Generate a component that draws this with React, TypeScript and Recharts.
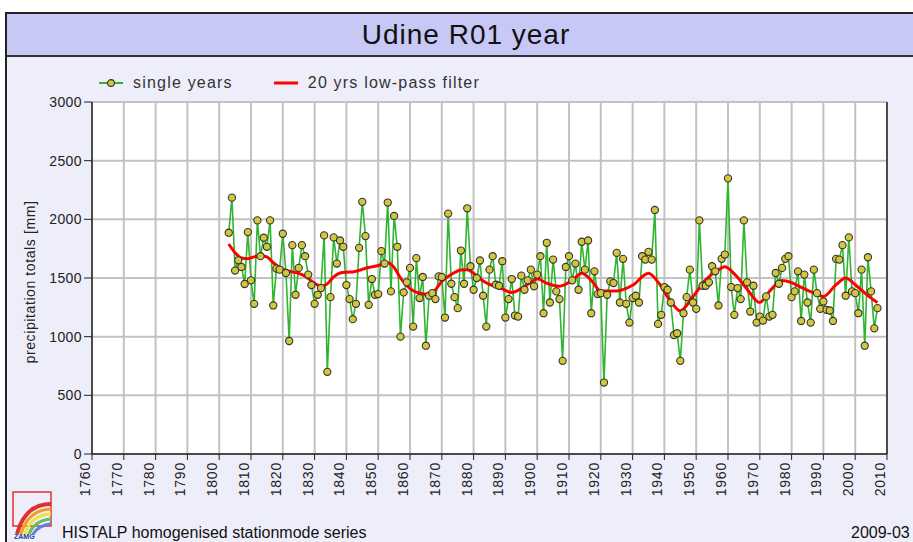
import {
  CartesianGrid, ComposedChart, Line, ReferenceLine, Scatter, XAxis, YAxis,
} from "recharts";

// annual precipitation totals [mm], Udine, one value per year from 1803
const firstYear = 1803;
const singleTotals = [
  1886, 2185, 1563, 1651, 1594, 1449, 1891, 1480, 1280, 1991, 1686, 1843, 1766, 1991, 1266, 1580, 1571,
  1877, 1543, 963, 1780, 1357, 1586, 1780, 1686, 1529, 1440,
  1280, 1357, 1414, 1863, 700, 1337, 1846, 1623, 1820, 1766,
  1440, 1320, 1149, 1280, 1757, 2149, 1857, 1271, 1491, 1357,
  1363, 1729, 1623, 2143, 1386, 2029, 1766, 1000, 1377, 1463,
  1586, 1086, 1669, 1329, 1509, 923, 1349, 1371, 1320, 1514,
  1509, 1163, 2049, 1451, 1337, 1243, 1734, 1451, 2094, 1600,
  1400, 1500, 1649, 1349, 1086, 1571, 1686, 1443, 1434, 1643,
  1163, 1320, 1491, 1180, 1171, 1520, 1400, 1480, 1571, 1429,
  1529, 1686, 1200, 1800, 1291, 1657, 1386, 1320, 794, 1594,
  1686, 1480, 1623, 1400, 1809, 1571, 1820, 1200, 1557, 1363,
  1371, 609, 1357, 1471, 1457, 1714, 1291, 1663, 1280, 1120,
  1329, 1349, 1291, 1686, 1657, 1723, 1657, 2080, 1109, 1186,
  1423, 1400, 1291, 1014, 1029, 794, 1200, 1337, 1571, 1291,
  1237, 1991, 1434, 1434, 1463, 1600, 1557, 1266, 1663, 1700,
  2349, 1423, 1186, 1414, 1320, 1991, 1463, 1214, 1434, 1120,
  1171, 1137, 1343, 1171, 1186, 1543, 1451, 1586, 1663, 1686,
  1337, 1386, 1557, 1134, 1529, 1291, 1120, 1571, 1371, 1237,
  1300, 1229, 1223, 1134, 1663, 1657, 1780, 1349, 1846, 1386,
  1371, 1200, 1571, 923, 1677, 1386, 1071, 1243,
];

// 20 yrs low-pass filter
const filterYears = [
  1803, 1805, 1807, 1809, 1811, 1813, 1815, 1817, 1819, 1821, 1823, 1825, 1827, 1829, 1831, 1832,
  1834, 1836, 1838, 1840, 1842, 1844, 1846, 1848, 1850, 1852, 1853, 1855, 1857, 1860, 1863, 1866,
  1868, 1870, 1873, 1876, 1878, 1880, 1882, 1885, 1888, 1892, 1895, 1898, 1900, 1903, 1907, 1911,
  1914, 1917, 1920, 1925, 1930, 1935, 1938, 1942, 1945, 1949, 1953, 1957, 1959, 1962, 1966, 1970,
  1973, 1977, 1980, 1983, 1987, 1990, 1994, 1997, 2000, 2004, 2007,
];
const filterValues = [
  1790, 1715, 1670, 1665, 1680, 1690, 1680, 1630, 1590, 1565, 1552, 1540, 1515, 1475, 1440, 1430,
  1450, 1510, 1543, 1550, 1552, 1565, 1583, 1595, 1607, 1627, 1630, 1590, 1500, 1410, 1370, 1360,
  1400, 1470, 1530, 1568, 1570, 1540, 1494, 1445, 1420, 1376, 1410, 1465, 1493, 1455, 1430, 1480,
  1541, 1480, 1390, 1390, 1438, 1541, 1465, 1300, 1220, 1342, 1485, 1570, 1595, 1535, 1405, 1291,
  1385, 1478, 1460, 1420, 1371, 1343, 1443, 1500, 1443, 1350, 1290,
];

const yTicks = [0, 500, 1000, 1500, 2000, 2500, 3000];
const xTicks = [
  1760, 1770, 1780, 1790, 1800, 1810, 1820, 1830, 1840, 1850, 1860, 1870, 1880,
  1890, 1900, 1910, 1920, 1930, 1940, 1950, 1960, 1970, 1980, 1990, 2000, 2010,
];

const singles = singleTotals.map((v, i) => ({ year: firstYear + i, value: v }));
const filtered = filterYears.map((y, i) => ({ year: y, value: filterValues[i] }));

const GREEN = "#2fb52f";
const RED = "#ff0000";
const DOT_FILL = "#d2c63c";
const FONT = '"Liberation Sans", Arial, sans-serif';

function XTick({ x, y, payload }: any) {
  return (
    <text
      transform={`translate(${x - 7},${y}) rotate(-90)`}
      textAnchor="end"
      dominantBaseline="central"
      fontSize={14}
      letterSpacing={0.8}
      fill="#222"
    >
      {payload.value}
    </text>
  );
}

function Dot({ cx, cy }: any) {
  return <circle cx={cx} cy={cy} r={3.6} fill={DOT_FILL} stroke="#333" strokeWidth={1.1} />;
}

export default function App() {
  return (
    <div style={{ position: "absolute", left: 0, top: 0, width: 913, height: 542, overflow: "hidden", background: "#fff", fontFamily: FONT }}>
      {/* panel */}
      <div style={{ position: "absolute", left: 5, top: 12, width: 1000, height: 600, background: "#eeeefa", borderLeft: "2px solid #222", borderTop: "2px solid #222" }} />
      <div style={{ position: "absolute", left: 7, top: 14, width: 1000, height: 41, background: "#c8c8f6", borderBottom: "2px solid #333" }} />
      <div style={{ position: "absolute", left: 0, top: 17, width: 932, textAlign: "center", fontSize: 28, lineHeight: "36px", letterSpacing: 1, color: "#111" }}>
        Udine R01 year
      </div>

      {/* legend */}
      <div style={{ position: "absolute", left: 98, top: 73, height: 20, display: "flex", alignItems: "center", fontSize: 16, letterSpacing: 1.2, color: "#333" }}>
        <svg width={26} height={12} style={{ marginRight: 9 }}>
          <line x1={1} y1={6} x2={25} y2={6} stroke={GREEN} strokeWidth={2} />
          <circle cx={13} cy={6} r={3.4} fill={DOT_FILL} stroke="#333" strokeWidth={1.1} />
        </svg>
        <span>single years</span>
        <svg width={26} height={12} style={{ marginLeft: 40, marginRight: 9 }}>
          <line x1={1} y1={6} x2={25} y2={6} stroke={RED} strokeWidth={3} />
        </svg>
        <span>20 yrs low-pass filter</span>
      </div>

      {/* y axis title */}
      <div style={{ position: "absolute", left: 30, top: 282, width: 0, height: 0 }}>
        <div style={{ position: "absolute", left: -90, top: -9, width: 180, textAlign: "center", fontSize: 14, letterSpacing: 0.6, lineHeight: "18px", color: "#222", transform: "rotate(-90deg)" }}>
          precipitation totals [mm]
        </div>
      </div>

      <div style={{ position: "absolute", left: 0, top: 0 }}>
        <ComposedChart width={913} height={542} margin={{ top: 102, right: 26, bottom: 38, left: 32 }}>
          <CartesianGrid fill="#fff" stroke="#c2c2c2" strokeWidth={2} />
          <XAxis
            type="number"
            dataKey="year"
            domain={[1760, 2010]}
            ticks={xTicks}
            interval={0}
            height={50}
            tickSize={6}
            tickMargin={2}
            tick={<XTick />}
            axisLine={{ stroke: "#222", strokeWidth: 1.5 }}
            tickLine={{ stroke: "#222" }}
            allowDataOverflow
          />
          <YAxis
            type="number"
            domain={[0, 3000]}
            ticks={yTicks}
            interval={0}
            width={60}
            tickSize={8}
            tickMargin={2}
            tick={{ fontSize: 14, fill: "#222", letterSpacing: 0.4 }}
            axisLine={{ stroke: "#222", strokeWidth: 1.5 }}
            tickLine={{ stroke: "#222" }}
          />
          <ReferenceLine x={2010} stroke="#222" strokeWidth={1.5} />
          <Line
            data={singles}
            dataKey="value"
            type="linear"
            stroke={GREEN}
            strokeWidth={1.6}
            dot={false}
            activeDot={false}
            isAnimationActive={false}
          />
          <Line
            data={filtered}
            dataKey="value"
            type="monotone"
            stroke={RED}
            strokeWidth={3}
            dot={false}
            activeDot={false}
            isAnimationActive={false}
          />
          <Scatter data={singles} dataKey="value" shape={<Dot />} isAnimationActive={false} />
        </ComposedChart>
      </div>

      {/* footer */}
      <svg width={44} height={52} style={{ position: "absolute", left: 11, top: 490 }}>
        <rect x={2} y={2} width={38} height={34} fill="none" stroke="#e03030" strokeWidth={1.5} />
        <path d="M6,44 Q14,14 40,14" fill="none" stroke="#e03030" strokeWidth={4} />
        <path d="M10,44 Q17,20 40,19" fill="none" stroke="#f0a020" strokeWidth={3} />
        <path d="M14,44 Q20,25 40,24" fill="none" stroke="#f0e040" strokeWidth={3} />
        <path d="M18,44 Q24,30 40,29" fill="none" stroke="#60c060" strokeWidth={3} />
        <path d="M22,44 Q28,35 40,34" fill="none" stroke="#6080e0" strokeWidth={3} />
        <text x={3} y={49} fontSize={7} fontWeight="bold" fill="#2040a0">ZAMG</text>
      </svg>
      <div style={{ position: "absolute", left: 62, top: 525, fontSize: 16, lineHeight: "16px", color: "#111", whiteSpace: "nowrap" }}>
        HISTALP homogenised stationmode series
      </div>
      <div style={{ position: "absolute", left: 851, top: 525, fontSize: 16, lineHeight: "16px", color: "#111", whiteSpace: "nowrap" }}>
        2009-03
      </div>
    </div>
  );
}
